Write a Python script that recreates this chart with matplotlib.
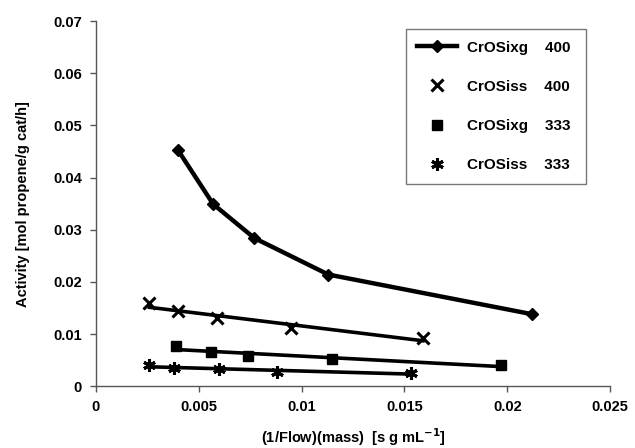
import numpy as np
import matplotlib
matplotlib.use("Agg")
import matplotlib.pyplot as plt
from matplotlib.ticker import FuncFormatter, MultipleLocator

plt.rcParams['font.family'] = ['Liberation Sans', 'DejaVu Sans']

# Data
x_xg400 = [0.0040, 0.0057, 0.0077, 0.0113, 0.0212]
y_xg400 = [0.0452, 0.0349, 0.0284, 0.0214, 0.0138]

x_ss400 = [0.0026, 0.0040, 0.0059, 0.0095, 0.0159]
y_ss400 = [0.0159, 0.0144, 0.0130, 0.0111, 0.0092]

x_xg333 = [0.0039, 0.0056, 0.0074, 0.0115, 0.0197]
y_xg333 = [0.0077, 0.0065, 0.0058, 0.0052, 0.0040]

x_ss333 = [0.0026, 0.0038, 0.0060, 0.0088, 0.0153]
y_ss333 = [0.0040, 0.0035, 0.0033, 0.0027, 0.0025]

labels = ["CrOSixg    400", "CrOSiss    400", "CrOSixg    333", "CrOSiss    333"]

fig = plt.figure(figsize=(6.35, 4.48), dpi=100)
ax = fig.add_axes([0.151, 0.138, 0.810, 0.815])

ax.plot(x_xg400, y_xg400, color='black', lw=3.2, marker='D', ms=6, label=labels[0])

def trend(xs, ys):
    p = np.polyfit(xs, ys, 1)
    xx = np.array([min(xs), max(xs)])
    ax.plot(xx, np.polyval(p, xx), color='black', lw=2.6)

trend(x_ss400, y_ss400)
trend(x_xg333, y_xg333)
trend(x_ss333, y_ss333)

ax.plot(x_ss400, y_ss400, ls='none', marker='x', ms=8.5, mew=2.2, color='black', label=labels[1])
ax.plot(x_xg333, y_xg333, ls='none', marker='s', ms=6.5, color='black', label=labels[2])
ax.plot(x_ss333, y_ss333, ls='none', marker=(6, 2, 0), ms=9, mew=2.2, color='black', label=labels[3])

ax.set_xlim(0, 0.025)
ax.set_ylim(0, 0.07)
ax.xaxis.set_major_locator(MultipleLocator(0.005))
ax.yaxis.set_major_locator(MultipleLocator(0.01))
fmt = FuncFormatter(lambda v, p: "%g" % round(v, 6))
ax.xaxis.set_major_formatter(fmt)
ax.yaxis.set_major_formatter(fmt)

for s in ['top', 'right']:
    ax.spines[s].set_visible(False)
for s in ['left', 'bottom']:
    ax.spines[s].set_color('#555555')
    ax.spines[s].set_linewidth(1.0)
ax.tick_params(direction='out', length=4, width=1, color='#555555', labelsize=10.5, pad=6)
for lab in ax.get_xticklabels() + ax.get_yticklabels():
    lab.set_fontweight('bold')

ax.set_xlabel("(1/Flow)(mass)  [s g mL$^{\\mathbf{-1}}$]", fontsize=10.5, fontweight='bold', labelpad=9)
ax.set_ylabel("Activity [mol propene/g cat/h]", fontsize=10.5, fontweight='bold', labelpad=17)

leg = ax.legend(loc='upper left', bbox_to_anchor=(0.603, 0.978, 0.350, 0.0), mode='expand',
                borderaxespad=0.0,
                frameon=True, fancybox=False, edgecolor='#555555', borderpad=0.75,
                labelspacing=1.65, handlelength=2.6, handletextpad=0.65,
                prop={'weight': 'bold', 'size': 11})
leg.get_frame().set_linewidth(1.0)

fig.savefig("out.png", dpi=100)
